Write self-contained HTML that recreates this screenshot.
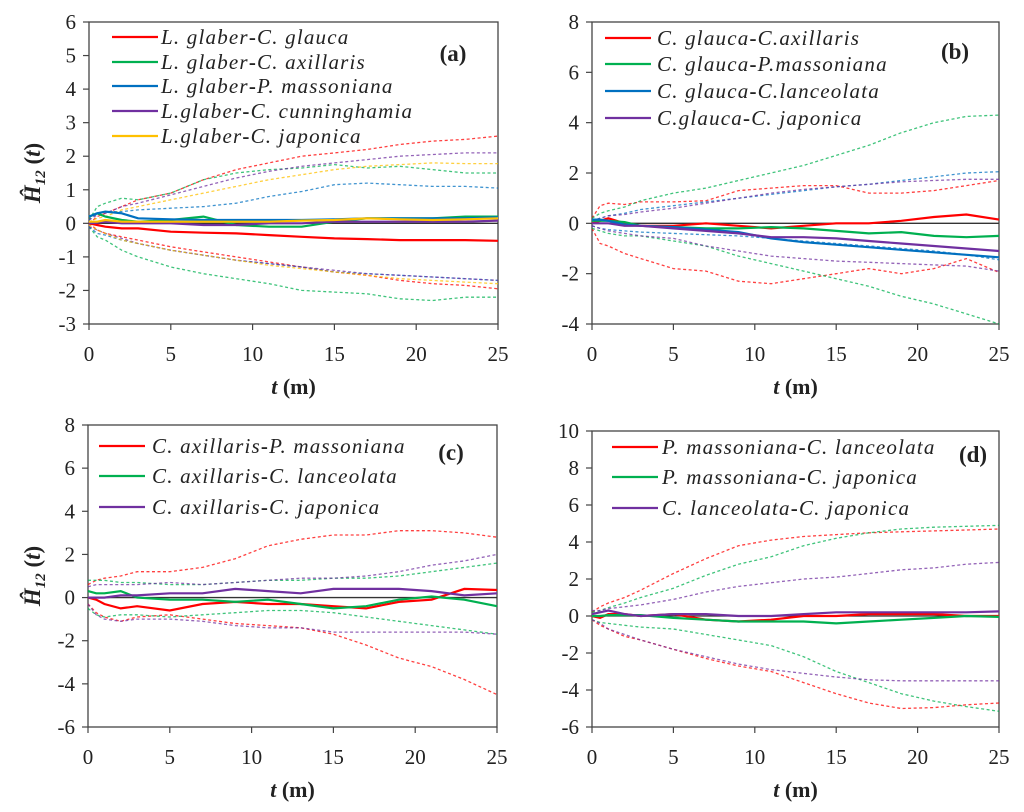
<!DOCTYPE html>
<html><head><meta charset="utf-8"><style>
body{margin:0;background:#fff;}
svg{display:block;font-family:"Liberation Serif",serif;}
</style></head><body>
<svg id="c" width="1024" height="812" viewBox="0 0 1024 812" xmlns="http://www.w3.org/2000/svg"></svg>
<script>
const T=[0,0.5,1,2,3,5,7,9,11,13,15,17,19,21,23,25];
const xTicks=[0,5,10,15,20,25];
// Panel a
const aRed=[0,-0.05,-0.1,-0.15,-0.15,-0.25,-0.28,-0.3,-0.35,-0.4,-0.45,-0.47,-0.5,-0.5,-0.5,-0.52];
const aRedU=[0,0.2,0.3,0.5,0.7,0.9,1.3,1.6,1.8,2.0,2.1,2.2,2.35,2.45,2.5,2.6];
const aRedL=[0,-0.2,-0.3,-0.4,-0.5,-0.7,-0.85,-1.0,-1.15,-1.3,-1.45,-1.55,-1.7,-1.8,-1.85,-1.95];
const aGreen=[0.2,0.3,0.2,0.1,0.05,0.1,0.2,-0.05,-0.1,-0.1,0.05,0.15,0.15,0.15,0.2,0.2];
const aGreenU=[0.1,0.5,0.6,0.75,0.7,0.9,1.3,1.5,1.6,1.65,1.75,1.65,1.7,1.6,1.5,1.5];
const aGreenL=[-0.1,-0.4,-0.5,-0.8,-1.0,-1.3,-1.5,-1.65,-1.8,-2.0,-2.05,-2.1,-2.25,-2.3,-2.2,-2.2];
const aBlue=[0.2,0.3,0.35,0.3,0.15,0.12,0.1,0.1,0.1,0.1,0.12,0.15,0.15,0.15,0.15,0.18];
const aBlueU=[0.1,0.3,0.35,0.35,0.4,0.45,0.5,0.6,0.8,0.95,1.15,1.2,1.15,1.1,1.1,1.05];
const aBlueL=[-0.1,-0.3,-0.35,-0.5,-0.6,-0.8,-0.95,-1.1,-1.2,-1.3,-1.45,-1.5,-1.55,-1.6,-1.65,-1.7];
const aPurple=[0,0.02,0.05,0,0,0,-0.05,-0.05,0,0,0.05,0.05,0.05,0.05,0.05,0.08];
const aPurpleU=[0.1,0.25,0.3,0.5,0.6,0.85,1.1,1.35,1.55,1.7,1.8,1.9,2.0,2.05,2.1,2.1];
const aPurpleL=[-0.1,-0.2,-0.3,-0.45,-0.6,-0.8,-0.95,-1.1,-1.2,-1.3,-1.4,-1.5,-1.55,-1.6,-1.65,-1.7];
const aYellow=[0.05,0.05,0.1,0.05,0.05,0.05,0.05,0.05,0.05,0.08,0.1,0.15,0.12,0.1,0.12,0.15];
const aYellowU=[0.05,0.15,0.2,0.4,0.5,0.7,0.9,1.1,1.3,1.45,1.6,1.7,1.75,1.8,1.78,1.78];
const aYellowL=[-0.05,-0.2,-0.3,-0.5,-0.6,-0.8,-0.95,-1.1,-1.25,-1.35,-1.45,-1.55,-1.65,-1.7,-1.75,-1.8];
// Panel b
const bRed=[0,0.1,0.2,0,-0.1,-0.1,0,-0.1,-0.2,-0.1,0,0,0.1,0.25,0.35,0.15];
const bRedU=[0.2,0.7,0.8,0.75,0.85,0.85,0.9,1.3,1.4,1.5,1.5,1.2,1.2,1.3,1.5,1.7];
const bRedL=[-0.2,-0.8,-0.9,-1.2,-1.4,-1.8,-1.9,-2.3,-2.4,-2.2,-2.0,-1.8,-2.0,-1.8,-1.4,-1.95];
const bGreen=[0.1,0.1,0.1,0.05,-0.1,-0.15,-0.2,-0.2,-0.15,-0.2,-0.3,-0.4,-0.35,-0.5,-0.55,-0.5];
const bGreenU=[0.2,0.4,0.5,0.65,0.9,1.2,1.4,1.7,2.0,2.3,2.7,3.1,3.6,4.0,4.25,4.3];
const bGreenL=[-0.2,-0.3,-0.4,-0.5,-0.5,-0.7,-0.9,-1.3,-1.6,-1.9,-2.2,-2.5,-2.9,-3.2,-3.6,-4.0];
const bBlue=[0.15,0.15,0.1,-0.05,-0.1,-0.15,-0.25,-0.35,-0.6,-0.75,-0.85,-0.95,-1.05,-1.15,-1.25,-1.35];
const bBlueU=[0.1,0.2,0.3,0.4,0.55,0.7,0.85,1.0,1.15,1.3,1.45,1.55,1.7,1.85,2.0,2.05];
const bBlueL=[-0.1,-0.2,-0.25,-0.3,-0.35,-0.4,-0.45,-0.5,-0.6,-0.7,-0.8,-0.9,-1.0,-1.1,-1.25,-1.45];
const bPurple=[0,0,0,-0.1,-0.1,-0.2,-0.3,-0.4,-0.55,-0.55,-0.6,-0.7,-0.8,-0.9,-1.0,-1.1];
const bPurpleU=[0.1,0.2,0.3,0.35,0.45,0.6,0.8,1.0,1.2,1.35,1.45,1.55,1.65,1.7,1.75,1.75];
const bPurpleL=[-0.1,-0.2,-0.3,-0.4,-0.5,-0.6,-0.9,-1.1,-1.3,-1.4,-1.5,-1.55,-1.6,-1.65,-1.7,-1.9];
// Panel c
const cRed=[0,-0.1,-0.3,-0.5,-0.4,-0.6,-0.3,-0.2,-0.3,-0.3,-0.4,-0.5,-0.2,-0.1,0.4,0.35];
const cRedU=[0.6,0.8,0.9,1.0,1.2,1.2,1.4,1.8,2.4,2.7,2.9,2.9,3.1,3.1,3.0,2.8];
const cRedL=[-0.3,-0.7,-0.9,-1.1,-0.9,-0.8,-1.0,-1.2,-1.3,-1.4,-1.7,-2.2,-2.8,-3.2,-3.8,-4.5];
const cGreen=[0.3,0.2,0.2,0.3,0,-0.1,-0.1,-0.2,-0.1,-0.3,-0.5,-0.4,-0.1,0.05,-0.1,-0.4];
const cGreenU=[0.8,0.8,0.8,0.7,0.7,0.6,0.6,0.7,0.8,0.8,0.9,0.9,1.0,1.2,1.4,1.6];
const cGreenL=[-0.5,-0.8,-0.9,-0.8,-0.8,-0.9,-0.8,-0.7,-0.6,-0.6,-0.7,-0.9,-1.1,-1.3,-1.5,-1.7];
const cPurple=[0,0,0,0.1,0.1,0.2,0.2,0.4,0.3,0.2,0.4,0.4,0.4,0.3,0.1,0.2];
const cPurpleU=[0.5,0.6,0.6,0.6,0.6,0.7,0.6,0.7,0.8,0.9,0.9,1.0,1.2,1.5,1.7,2.0];
const cPurpleL=[-0.3,-0.8,-1.0,-1.1,-1.0,-1.0,-1.1,-1.3,-1.4,-1.4,-1.6,-1.6,-1.6,-1.6,-1.6,-1.7];
// Panel d
const dRed=[0,-0.1,0.1,0.1,0,0.1,-0.2,-0.3,-0.2,0,0,0.1,0.1,0.1,0,0];
const dRedU=[0.2,0.5,0.7,1.0,1.4,2.3,3.1,3.8,4.1,4.3,4.4,4.5,4.55,4.6,4.65,4.7];
const dRedL=[-0.2,-0.5,-0.7,-1.1,-1.3,-1.8,-2.3,-2.7,-3.0,-3.6,-4.2,-4.7,-5.0,-4.95,-4.8,-4.7];
const dGreen=[0,0,0.05,0.05,0.05,-0.1,-0.2,-0.3,-0.3,-0.3,-0.4,-0.3,-0.2,-0.1,0,-0.05];
const dGreenU=[0.2,0.3,0.45,0.7,1.0,1.5,2.2,2.8,3.2,3.8,4.2,4.5,4.7,4.8,4.85,4.9];
const dGreenL=[-0.2,-0.35,-0.4,-0.5,-0.6,-0.7,-1.0,-1.3,-1.6,-2.2,-3.0,-3.6,-4.2,-4.6,-4.9,-5.15];
const dPurple=[0.1,0.2,0.3,0.1,0,0.1,0.1,0,0,0.1,0.2,0.2,0.2,0.2,0.2,0.25];
const dPurpleU=[0.3,0.3,0.4,0.5,0.6,0.9,1.3,1.6,1.8,2.0,2.1,2.3,2.5,2.6,2.8,2.9];
const dPurpleL=[-0.2,-0.4,-0.7,-1.0,-1.3,-1.8,-2.2,-2.6,-2.9,-3.1,-3.3,-3.45,-3.5,-3.5,-3.5,-3.5];

const RED="#ff0000",GRN="#00b050",BLU="#0070c0",PUR="#7030a0",YEL="#ffc000";
const NS="http://www.w3.org/2000/svg";
const svg=document.getElementById('c');
function mk(tag,attrs,parent){const e=document.createElementNS(NS,tag);for(const k in attrs)e.setAttribute(k,attrs[k]);(parent||svg).appendChild(e);return e;}

const panels=[
 {id:'a',x0:89,x1:498,y0:22,y1:324,ymin:-3,ymax:6,step:1,ytitle:true,
  lx:112,lt:161,ly:[37,62,86,111,136],tagx:453,tagy:61,
  series:[["L. glaber","C. glauca",RED,aRed,aRedU,aRedL],["L. glaber","C. axillaris",GRN,aGreen,aGreenU,aGreenL],["L. glaber","P. massoniana",BLU,aBlue,aBlueU,aBlueL],["L.glaber","C. cunninghamia",PUR,aPurple,aPurpleU,aPurpleL],["L.glaber","C. japonica",YEL,aYellow,aYellowU,aYellowL]]},
 {id:'b',x0:592,x1:999,y0:22,y1:324,ymin:-4,ymax:8,step:2,ytitle:false,
  lx:605,lt:657,ly:[38,64,91,118],tagx:955,tagy:59,
  series:[["C. glauca","C.axillaris",RED,bRed,bRedU,bRedL],["C. glauca","P.massoniana",GRN,bGreen,bGreenU,bGreenL],["C. glauca","C.lanceolata",BLU,bBlue,bBlueU,bBlueL],["C.glauca","C. japonica",PUR,bPurple,bPurpleU,bPurpleL]]},
 {id:'c',x0:88,x1:497,y0:425,y1:727,ymin:-6,ymax:8,step:2,ytitle:true,
  lx:99,lt:152,ly:[446,476,507],tagx:451,tagy:460,
  series:[["C. axillaris","P. massoniana",RED,cRed,cRedU,cRedL],["C. axillaris","C. lanceolata",GRN,cGreen,cGreenU,cGreenL],["C. axillaris","C. japonica",PUR,cPurple,cPurpleU,cPurpleL]]},
 {id:'d',x0:592,x1:999,y0:431,y1:727,ymin:-6,ymax:10,step:2,ytitle:false,
  lx:612,lt:662,ly:[447,477,508],tagx:973,tagy:462,
  series:[["P. massoniana","C. lanceolata",RED,dRed,dRedU,dRedL],["P. massoniana","C. japonica",GRN,dGreen,dGreenU,dGreenL],["C. lanceolata","C. japonica",PUR,dPurple,dPurpleU,dPurpleL]]}
];

panels.forEach(p=>{
  const g=mk('g',{});
  
  
  const X=t=>p.x0+(t-0)/25*(p.x1-p.x0);
  const Y=v=>p.y1-(v-p.ymin)/(p.ymax-p.ymin)*(p.y1-p.y0);
  const box=mk('rect',{x:p.x0,y:p.y0,width:p.x1-p.x0,height:p.y1-p.y0,fill:'none',stroke:'#444','stroke-width':1.3},g);
  
  
  for(let v=p.ymin;v<=p.ymax+1e-9;v+=p.step){
    mk('line',{x1:p.x0-6,x2:p.x0,y1:Y(v),y2:Y(v),stroke:'#444','stroke-width':1.2},g);
    const t=mk('text',{x:p.x0-13,y:Y(v)+7,'text-anchor':'end','font-size':21,fill:'#222'},g);
    t.textContent=v;
    
    
  }
  xTicks.forEach(v=>{
    mk('line',{x1:X(v),x2:X(v),y1:p.y1,y2:p.y1+6,stroke:'#444','stroke-width':1.2},g);
    const t=mk('text',{x:X(v),y:p.y1+37,'text-anchor':'middle','font-size':21,fill:'#222'},g);
    t.textContent=v;
    
    
  });
  const xt=mk('text',{x:(p.x0+p.x1)/2,y:p.y1+70,'text-anchor':'middle','font-size':22,'font-weight':'bold',fill:'#222'},g);
  xt.innerHTML='<tspan font-style="italic">t</tspan> (m)';
  
  
  if(p.ytitle){
    const cy=(p.y0+p.y1)/2;
    const yt=mk('text',{x:0,y:0,transform:`translate(40,${cy}) rotate(-90)`,'text-anchor':'middle','font-size':23,'font-weight':'bold',fill:'#222'},g);
    yt.innerHTML='<tspan font-style="italic">Ĥ</tspan><tspan font-style="italic" font-size="15" dy="5">12</tspan><tspan dy="-5"> (</tspan><tspan font-style="italic">t</tspan>)';
    
    
  }
  const z=mk('line',{x1:p.x0,x2:p.x1,y1:Y(0),y2:Y(0),stroke:'#333','stroke-width':1.3},g);
  
  
  const path=arr=>arr.map((v,i)=>(i?'L':'M')+X(T[i]).toFixed(1)+','+Y(v).toFixed(1)).join('');
  p.series.forEach((s,i)=>{
    const [a,b,col,mid,up,lo]=s;
    [up,lo].forEach((arr,j)=>{
      const d=mk('path',{d:path(arr),fill:'none',stroke:col,'stroke-width':1.3,'stroke-dasharray':'3,2.5',opacity:0.75},g);
      
      
    });
  });
  p.series.forEach((s,i)=>{
    const [a,b,col,mid]=s;
    const l=mk('path',{d:path(mid),fill:'none',stroke:col,'stroke-width':2.2},g);
    
    
    const ll=mk('line',{x1:p.lx,x2:p.lx+46,y1:p.ly[i],y2:p.ly[i],stroke:col,'stroke-width':2.2},g);
    
    
    const lt=mk('text',{x:p.lt,y:p.ly[i]+7,'font-size':21,'letter-spacing':1.2,'font-style':'italic',fill:'#222'},g);
    lt.innerHTML=a+'<tspan font-style="normal" font-weight="bold">-</tspan>'+b;
    
    
  });
  const tg=mk('text',{x:p.tagx,y:p.tagy,'text-anchor':'middle','font-size':23,'font-weight':'bold',fill:'#222'},g);
  tg.textContent='('+p.id+')';
  
  
});
</script>
</body></html>
